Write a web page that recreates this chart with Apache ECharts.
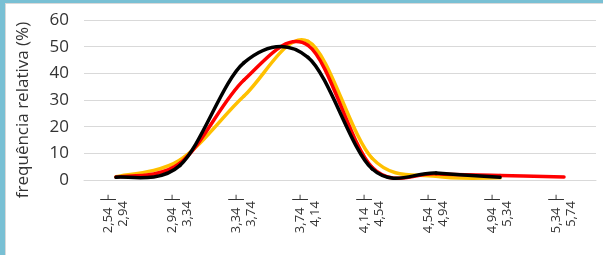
<!DOCTYPE html>
<html>
<head>
<meta charset="utf-8">
<script src="https://cdn.jsdelivr.net/npm/echarts@6/dist/echarts.min.js"></script>
<style>
  html, body { margin: 0; padding: 0; background: #79c0d4; }
  #frame { position: absolute; left: 5px; top: 3px; width: 598px; height: 252px; background: #fff;
           border-top: 1px solid #d9d9d9; border-left: 1px solid #d9d9d9; box-sizing: border-box; }
  #chart { position: absolute; left: -6px; top: -4px; width: 603px; height: 255px; }
</style>
</head>
<body>
<div id="frame"><div id="chart"></div></div>
<script>
// classes (intervals)
const classes = ["2,54", "2,94", "3,34", "3,74", "4,14", "4,54", "4,94", "5,34", "5,74"];
const categories = classes.slice(0, -1).map((c, i) => c + " \u251C\n" + classes[i + 1]);

// relative frequency (%) per series
const yellowValues = [1.2, 7.5, 31.5, 52, 8.2, 1.4, 0.8];
const redValues = [1.1, 6.3, 37.5, 50.5, 4.8, 2.3, 1.7, 1.1];
const blackValues = [1.0, 5.5, 44, 46, 4.2, 2.6, 1.0];

const yTicks = [0, 10, 20, 30, 40, 50, 60];

// excel-like smoothed line: one bezier per segment, control points from neighbours
const TENSION = 1 / 6;
function curveSeries(name, values, color) {
  return {
    type: "custom",
    name: name,
    data: values.map((v, i) => [i, v]),
    renderItem: function (params, api) {
      const i = params.dataIndex;
      const n = values.length;
      if (i >= n - 1) return null;
      const pt = (k) => {
        const j = Math.max(0, Math.min(n - 1, k));
        return api.coord([j, values[j]]);
      };
      const p0 = pt(i - 1), p1 = pt(i), p2 = pt(i + 1), p3 = pt(i + 2);
      return {
        type: "bezierCurve",
        shape: {
          x1: p1[0], y1: p1[1],
          x2: p2[0], y2: p2[1],
          cpx1: p1[0] + (p2[0] - p0[0]) * TENSION,
          cpy1: p1[1] + (p2[1] - p0[1]) * TENSION,
          cpx2: p2[0] - (p3[0] - p1[0]) * TENSION,
          cpy2: p2[1] - (p3[1] - p1[1]) * TENSION,
        },
        style: { stroke: color, fill: null, lineWidth: 3.5, lineCap: "round" },
      };
    },
  };
}

const chart = echarts.init(document.getElementById("chart"));
chart.setOption({
  animation: false,
  textStyle: { fontFamily: "Open Sans" },
  grid: { left: 84, right: 7, top: 20, bottom: 75 },
  xAxis: {
    type: "category",
    data: categories,
    boundaryGap: true,
    axisLine: { lineStyle: { color: "#d9d9d9" } },
    axisTick: { length: 5, lineStyle: { color: "#d9d9d9" } },
    axisLabel: {
      rotate: 90,
      align: "center",
      margin: 34,
      fontSize: 13,
      lineHeight: 15,
      padding: [0, 0, 10, 0],
      color: "#333",
      interval: 0,
    },
  },
  yAxis: {
    type: "value",
    min: yTicks[0],
    max: yTicks[yTicks.length - 1],
    interval: 10,
    axisLine: { show: false },
    axisTick: { show: false },
    splitLine: { lineStyle: { color: "#d9d9d9" } },
    axisLabel: { fontSize: 17, color: "#333", margin: 15 },
  },
  graphic: [
    {
      type: "text",
      x: 23,
      y: 110,
      rotation: Math.PI / 2,
      style: {
        text: "frequência relativa (%)",
        font: "17px 'Open Sans'",
        fill: "#333",
        align: "center",
        verticalAlign: "middle",
      },
    },
  ],
  series: [
    curveSeries("A", yellowValues, "#ffc000"),
    curveSeries("B", redValues, "#ff0000"),
    curveSeries("C", blackValues, "#000000"),
  ],
});
</script>
</body>
</html>
